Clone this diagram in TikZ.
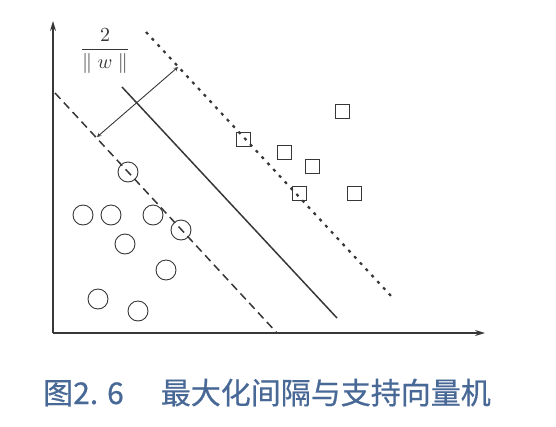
\documentclass[tikz,border=0pt]{standalone}
\usepackage{fontspec}
\newfontfamily\cjk[FakeBold=0.6]{Noto Sans CJK SC}
\usepackage{tikz}
\usetikzlibrary{calc,arrows.meta}
\tikzset{>=stealth}
\definecolor{ink}{RGB}{55,55,55}
\definecolor{capblue}{RGB}{72,104,150}
\tikzset{
  ptc/.style={draw=ink,circle,minimum size=20pt,inner sep=0pt,line width=.9pt},
  pts/.style={draw=ink,rectangle,minimum size=14pt,inner sep=0pt,line width=.9pt},
}
\begin{document}
\begin{tikzpicture}[x=1pt,y=-1pt]
\useasboundingbox (0,0) rectangle (556,426);
\coordinate (O) at (53,333);
\coordinate (Y) at (53,21);
\coordinate (X) at (485,333);
\draw[ink,line width=1.3pt,-{Stealth[length=10pt,width=6pt]}] (O) -- (Y);
\draw[ink,line width=1.3pt,-{Stealth[length=10pt,width=6pt]}] (O) -- (X);
% the three lines
\coordinate (Da) at (55,93);
\coordinate (Db) at (277,333);
\coordinate (Ha) at (122,87);
\coordinate (Hb) at (337,318);
\coordinate (Pa) at (146,32);
\coordinate (Pb) at (392,297);
\draw[ink,line width=1.5pt,dash pattern=on 8pt off 5pt] (Da) -- (Db);
\draw[ink,line width=1.5pt] (Ha) -- (Hb);
\draw[ink,line width=2.2pt,dash pattern=on 3pt off 5.5pt] (Pa) -- (Pb);
% margin
\coordinate (Ma) at (97,137);
\coordinate (Mb) at (178,67);
\draw[ink,line width=.9pt,<->] (Ma) -- (Mb);
\node[ink,inner sep=0pt] (gap) at (105,51) {\scalebox{2}{$\displaystyle\frac{2}{\|\;w\;\|}$}};
% negative samples
\node[ptc] (c1) at (128,172) {};
\node[ptc] (c2) at (83,215) {};
\node[ptc] (c3) at (111,215) {};
\node[ptc] (c4) at (153,215) {};
\node[ptc] (c5) at (181,230) {};
\node[ptc] (c6) at (125,244) {};
\node[ptc] (c7) at (166,270) {};
\node[ptc] (c8) at (98,299) {};
\node[ptc] (c9) at (138,311) {};
% positive samples
\node[pts] (s1) at (342,111) {};
\node[pts] (s2) at (243,139) {};
\node[pts] (s3) at (284,152) {};
\node[pts] (s4) at (312,166) {};
\node[pts] (s5) at (299,193) {};
\node[pts] (s6) at (354,193) {};
\node[anchor=base west,inner sep=0pt,text=capblue,font=\cjk\fontsize{30}{30}\selectfont] (cap) at (43,404) {图2. 6\hspace{37pt}最大化间隔与支持向量机};
\end{tikzpicture}
\end{document}
